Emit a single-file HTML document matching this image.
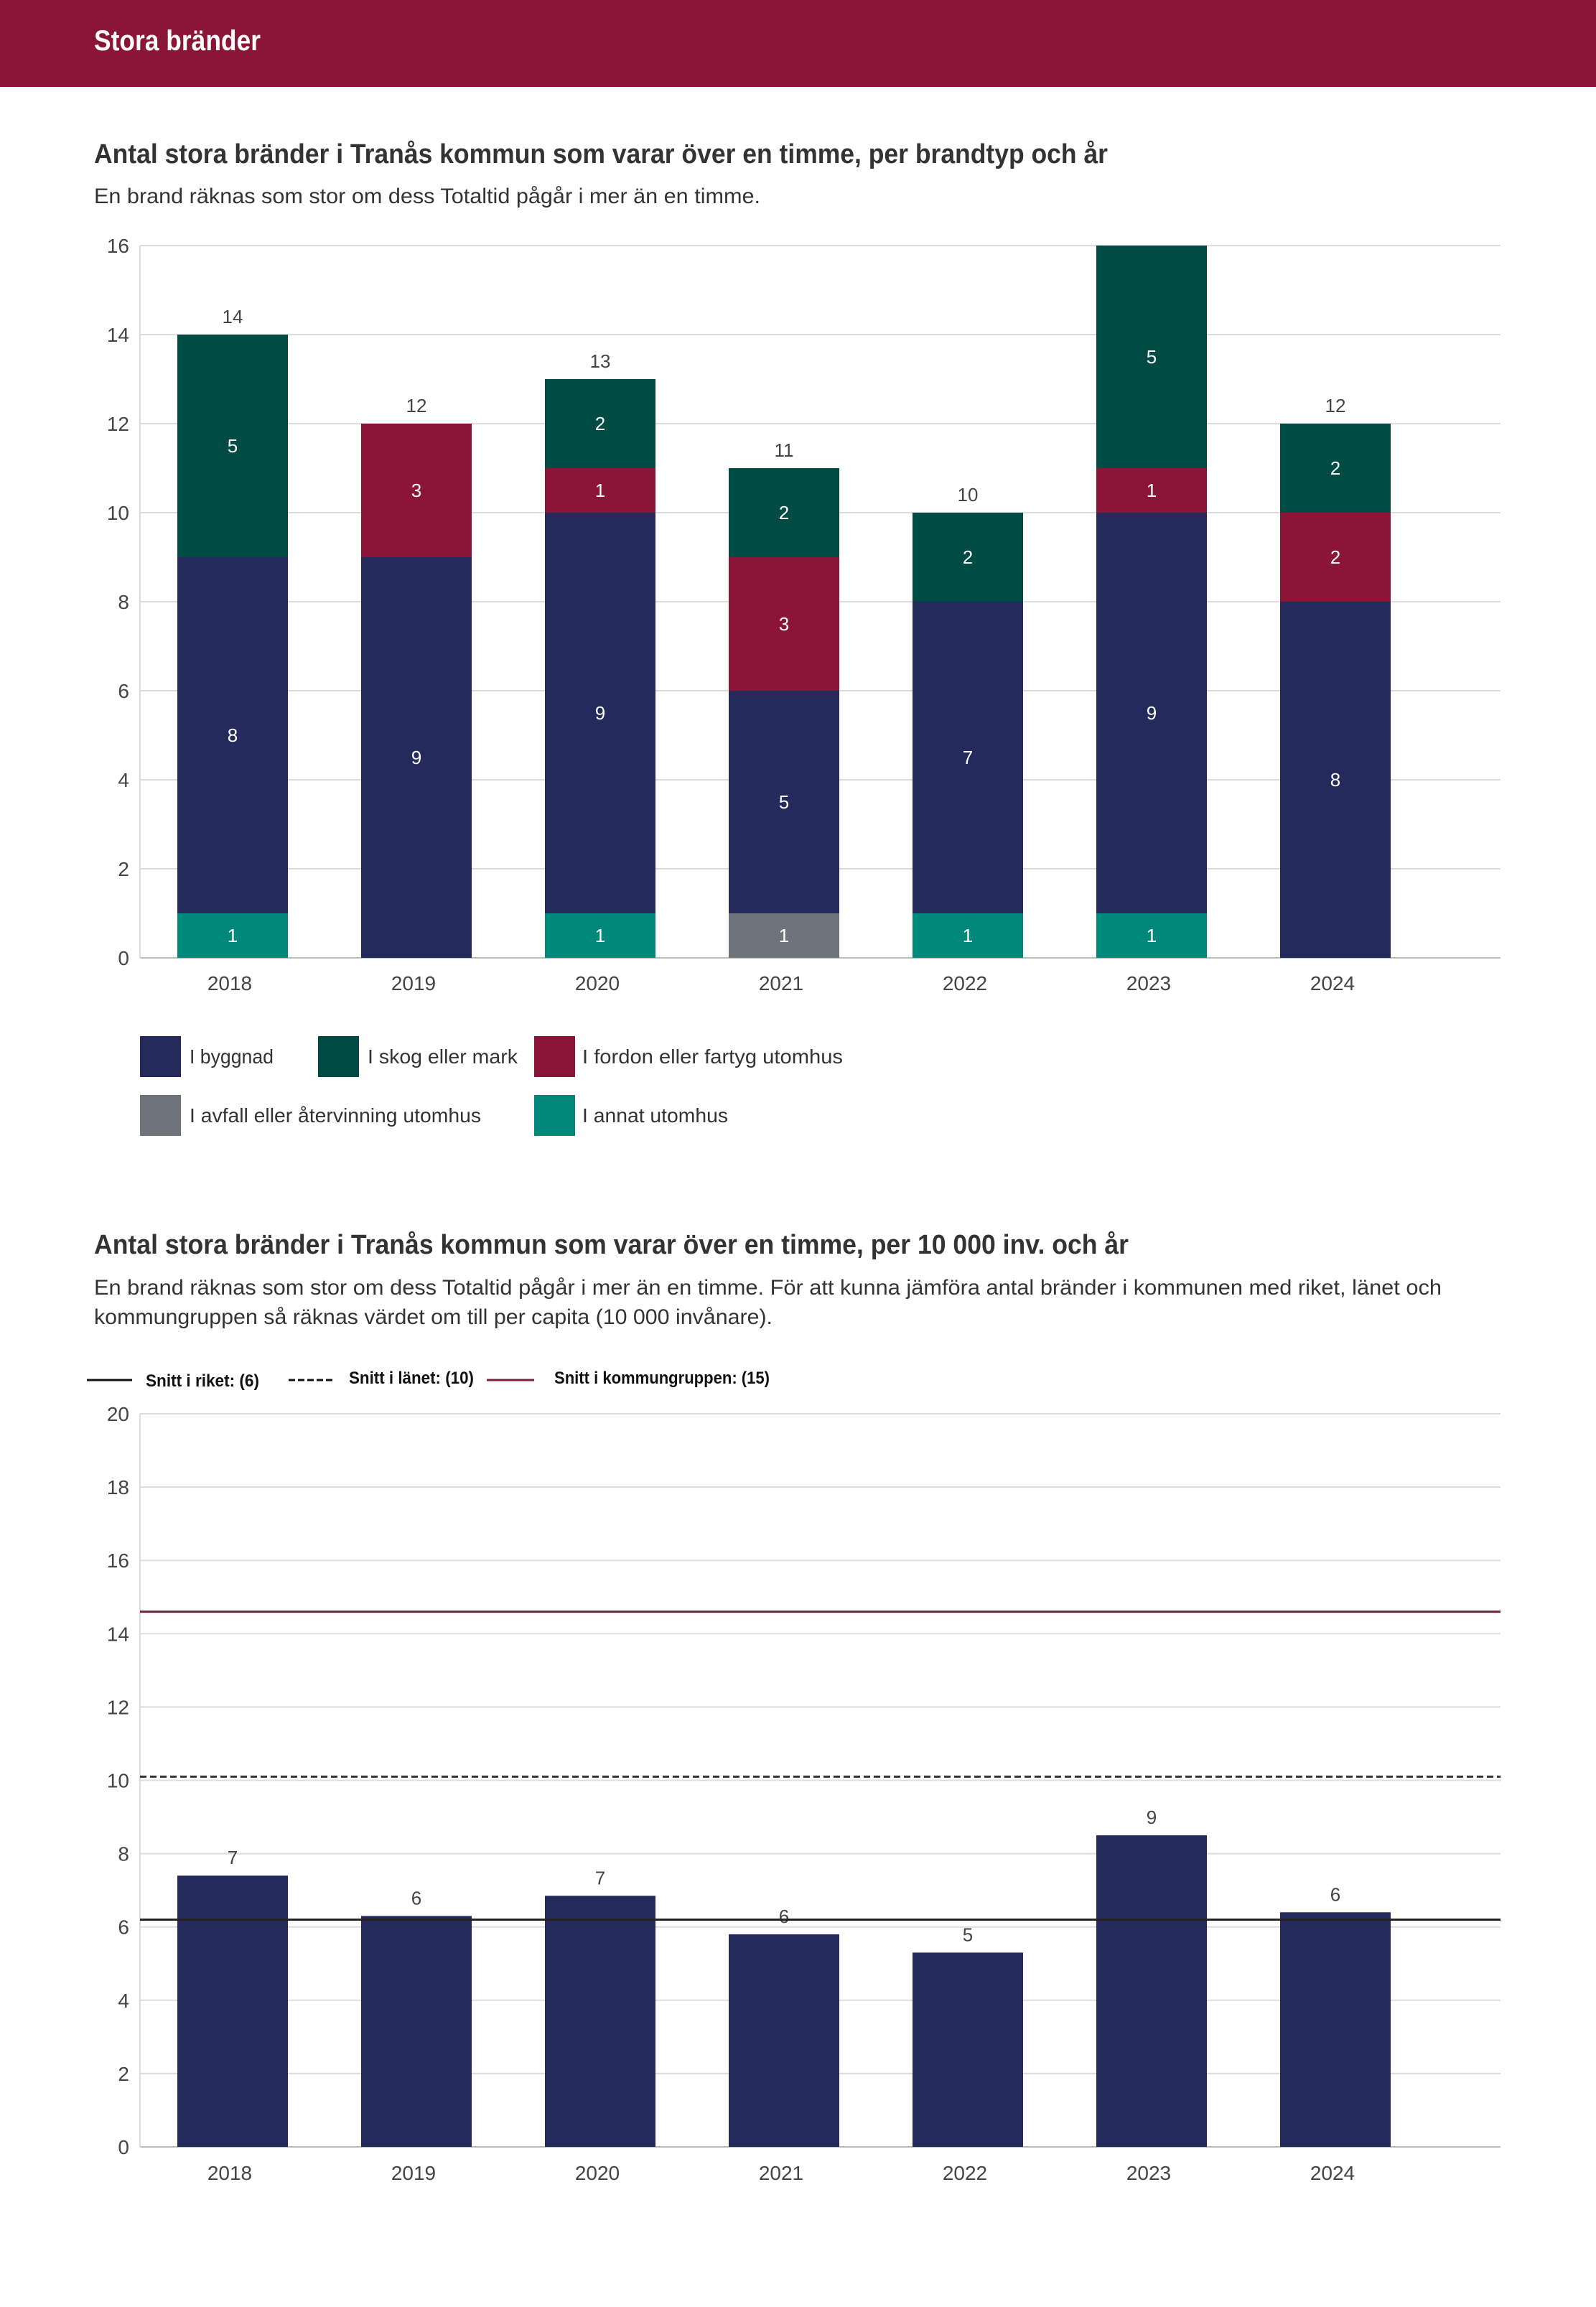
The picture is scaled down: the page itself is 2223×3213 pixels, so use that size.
<!DOCTYPE html>
<html><head><meta charset="utf-8">
<style>
html,body{margin:0;padding:0;background:#fff;}
svg{display:block;font-family:"Liberation Sans",sans-serif;}
</style></head>
<body>
<svg id="page" width="2223" height="3213" viewBox="0 0 2223 3213" xmlns="http://www.w3.org/2000/svg">
  <rect x="0" y="0" width="2223" height="121" fill="#8b1538"/>
  <text x="131" y="70" font-size="40" font-weight="bold" fill="#fff" textLength="232" lengthAdjust="spacingAndGlyphs">Stora bränder</text>

  <text x="131" y="227" font-size="38" font-weight="bold" fill="#333" textLength="1412" lengthAdjust="spacingAndGlyphs">Antal stora bränder i Tranås kommun som varar över en timme, per brandtyp och år</text>
  <text x="131" y="283" font-size="30" fill="#333" textLength="928" lengthAdjust="spacingAndGlyphs">En brand räknas som stor om dess Totaltid pågår i mer än en timme.</text>
  <g id="chart1"></g>

  <g>
    <rect x="195" y="1443" width="57" height="57" fill="#242a5c"/>
    <text x="264" y="1481" font-size="28" fill="#333" textLength="117" lengthAdjust="spacingAndGlyphs">I byggnad</text>
    <rect x="443" y="1443" width="57" height="57" fill="#004c45"/>
    <text x="512" y="1481" font-size="28" fill="#333" textLength="209" lengthAdjust="spacingAndGlyphs">I skog eller mark</text>
    <rect x="744" y="1443" width="57" height="57" fill="#8b1538"/>
    <text x="811" y="1481" font-size="28" fill="#333" textLength="363" lengthAdjust="spacingAndGlyphs">I fordon eller fartyg utomhus</text>
    <rect x="195" y="1525" width="57" height="57" fill="#6e737c"/>
    <text x="264" y="1563" font-size="28" fill="#333" textLength="406" lengthAdjust="spacingAndGlyphs">I avfall eller återvinning utomhus</text>
    <rect x="744" y="1525" width="57" height="57" fill="#00897b"/>
    <text x="811" y="1563" font-size="28" fill="#333" textLength="203" lengthAdjust="spacingAndGlyphs">I annat utomhus</text>
  </g>

  <text x="131" y="1746" font-size="38" font-weight="bold" fill="#333" textLength="1441" lengthAdjust="spacingAndGlyphs">Antal stora bränder i Tranås kommun som varar över en timme, per 10 000 inv. och år</text>
  <text x="131" y="1803" font-size="30" fill="#333" textLength="1877" lengthAdjust="spacingAndGlyphs">En brand räknas som stor om dess Totaltid pågår i mer än en timme. För att kunna jämföra antal bränder i kommunen med riket, länet och</text>
  <text x="131" y="1844" font-size="30" fill="#333" textLength="945" lengthAdjust="spacingAndGlyphs">kommungruppen så räknas värdet om till per capita (10 000 invånare).</text>

  <g>
    <line x1="121" y1="1922" x2="184" y2="1922" stroke="#111" stroke-width="3"/>
    <text x="203" y="1931" font-size="24" font-weight="bold" fill="#111" textLength="158" lengthAdjust="spacingAndGlyphs">Snitt i riket: (6)</text>
    <line x1="402" y1="1922" x2="465" y2="1922" stroke="#111" stroke-width="3" stroke-dasharray="9,4"/>
    <text x="486" y="1927" font-size="24" font-weight="bold" fill="#111" textLength="174" lengthAdjust="spacingAndGlyphs">Snitt i länet: (10)</text>
    <line x1="678" y1="1922" x2="744" y2="1922" stroke="#7a1c3e" stroke-width="3"/>
    <text x="772" y="1927" font-size="24" font-weight="bold" fill="#111" textLength="300" lengthAdjust="spacingAndGlyphs">Snitt i kommungruppen: (15)</text>
  </g>
  <g id="chart2"></g>
</svg>
<script>
const years = ["2018","2019","2020","2021","2022","2023","2024"];
const annat = [1,0,1,0,1,1,0];
const avfall = [0,0,0,1,0,0,0];
const byggnad = [8,9,9,5,7,9,8];
const fordon = [0,3,1,3,0,1,2];
const skog = [5,0,2,2,2,5,2];
const ticks1 = [0,2,4,6,8,10,12,14,16];

const perCapita = [7.4,6.3,6.85,5.8,5.3,8.5,6.4];
const perCapitaLabels = ["7","6","7","6","5","9","6"];
const ticks2 = [0,2,4,6,8,10,12,14,16,18,20];
const avgRiket = 6.2;
const avgLanet = 10.1;
const avgKommungrupp = 14.6;

const NS = "http://www.w3.org/2000/svg";
function mk(parent, tag, attrs, txt){
  const e = document.createElementNS(NS, tag);
  for (const k in attrs) e.setAttribute(k, attrs[k]);
  if (txt !== undefined) e.textContent = txt;
  parent.appendChild(e);
  return e;
}
const plotL = 195, plotR = 2090, step = 256, x0 = 324, bw = 154;
function xC(i){ return x0 + i*step; }

// Chart 1
(function(){
  const g = document.getElementById("chart1");
  const yBase = 1334, yTop = 342, yMax = 16;
  const y = v => yBase - v*(yBase-yTop)/yMax;
  ticks1.forEach(t=>{
    const l = mk(g,"line",{x1:plotL,x2:plotR,y1:y(t),y2:y(t),stroke:t===0?"#bbb":"#ddd","stroke-width":2});
    
    
    const tx = mk(g,"text",{x:180,y:y(t)+10,"font-size":28,fill:"#444","text-anchor":"end"},String(t));
    
    
  });
  const ax = mk(g,"line",{x1:plotL,x2:plotL,y1:yTop,y2:yBase,stroke:"#ddd","stroke-width":2});
  
  
  const series = [[annat,"#00897b","annat"],[avfall,"#6e737c","avfall"],[byggnad,"#242a5c","byggnad"],[fordon,"#8b1538","fordon"],[skog,"#004c45","skog"]];
  years.forEach((yr,i)=>{
    let acc = 0;
    series.forEach(([arr,col,nm])=>{
      const v = arr[i];
      if (v>0){
        const r = mk(g,"rect",{x:xC(i)-bw/2,y:y(acc+v),width:bw,height:y(acc)-y(acc+v),fill:col});
        
        
        const t = mk(g,"text",{x:xC(i),y:(y(acc)+y(acc+v))/2+9,"font-size":26,fill:"#fff","text-anchor":"middle"},String(v));
        
        
      }
      acc += v;
    });
    if (acc < yMax){
      const t = mk(g,"text",{x:xC(i),y:y(acc)-16,"font-size":26,fill:"#444","text-anchor":"middle"},String(acc));
      
      
    }
    const xl = mk(g,"text",{x:xC(i)-4,y:1379,"font-size":28,fill:"#444","text-anchor":"middle"},yr);
    
    
  });
})();

// Chart 2
(function(){
  const g = document.getElementById("chart2");
  const yBase = 2990, yTop = 1969, yMax = 20;
  const y = v => yBase - v*(yBase-yTop)/yMax;
  ticks2.forEach(t=>{
    const l = mk(g,"line",{x1:plotL,x2:plotR,y1:y(t),y2:y(t),stroke:t===0?"#bbb":"#ddd","stroke-width":2});
    
    
    const tx = mk(g,"text",{x:180,y:y(t)+10,"font-size":28,fill:"#444","text-anchor":"end"},String(t));
    
    
  });
  const ax = mk(g,"line",{x1:plotL,x2:plotL,y1:yTop,y2:yBase,stroke:"#ddd","stroke-width":2});
  
  
  years.forEach((yr,i)=>{
    const v = perCapita[i];
    const r = mk(g,"rect",{x:xC(i)-bw/2,y:y(v),width:bw,height:yBase-y(v),fill:"#242a5c"});
    
    
    const t = mk(g,"text",{x:xC(i),y:y(v)-16,"font-size":26,fill:"#444","text-anchor":"middle"},perCapitaLabels[i]);
    
    
    const xl = mk(g,"text",{x:xC(i)-4,y:3036,"font-size":28,fill:"#444","text-anchor":"middle"},yr);
    
    
  });
  const l1 = mk(g,"line",{x1:plotL,x2:plotR,y1:y(avgRiket),y2:y(avgRiket),stroke:"#222","stroke-width":3});
  
  
  const l2 = mk(g,"line",{x1:plotL,x2:plotR,y1:y(avgLanet),y2:y(avgLanet),stroke:"#333","stroke-width":3,"stroke-dasharray":"9,5"});
  
  
  const l3 = mk(g,"line",{x1:plotL,x2:plotR,y1:y(avgKommungrupp),y2:y(avgKommungrupp),stroke:"#7a1c3e","stroke-width":3});
  
  
})();
</script>
</body></html>
